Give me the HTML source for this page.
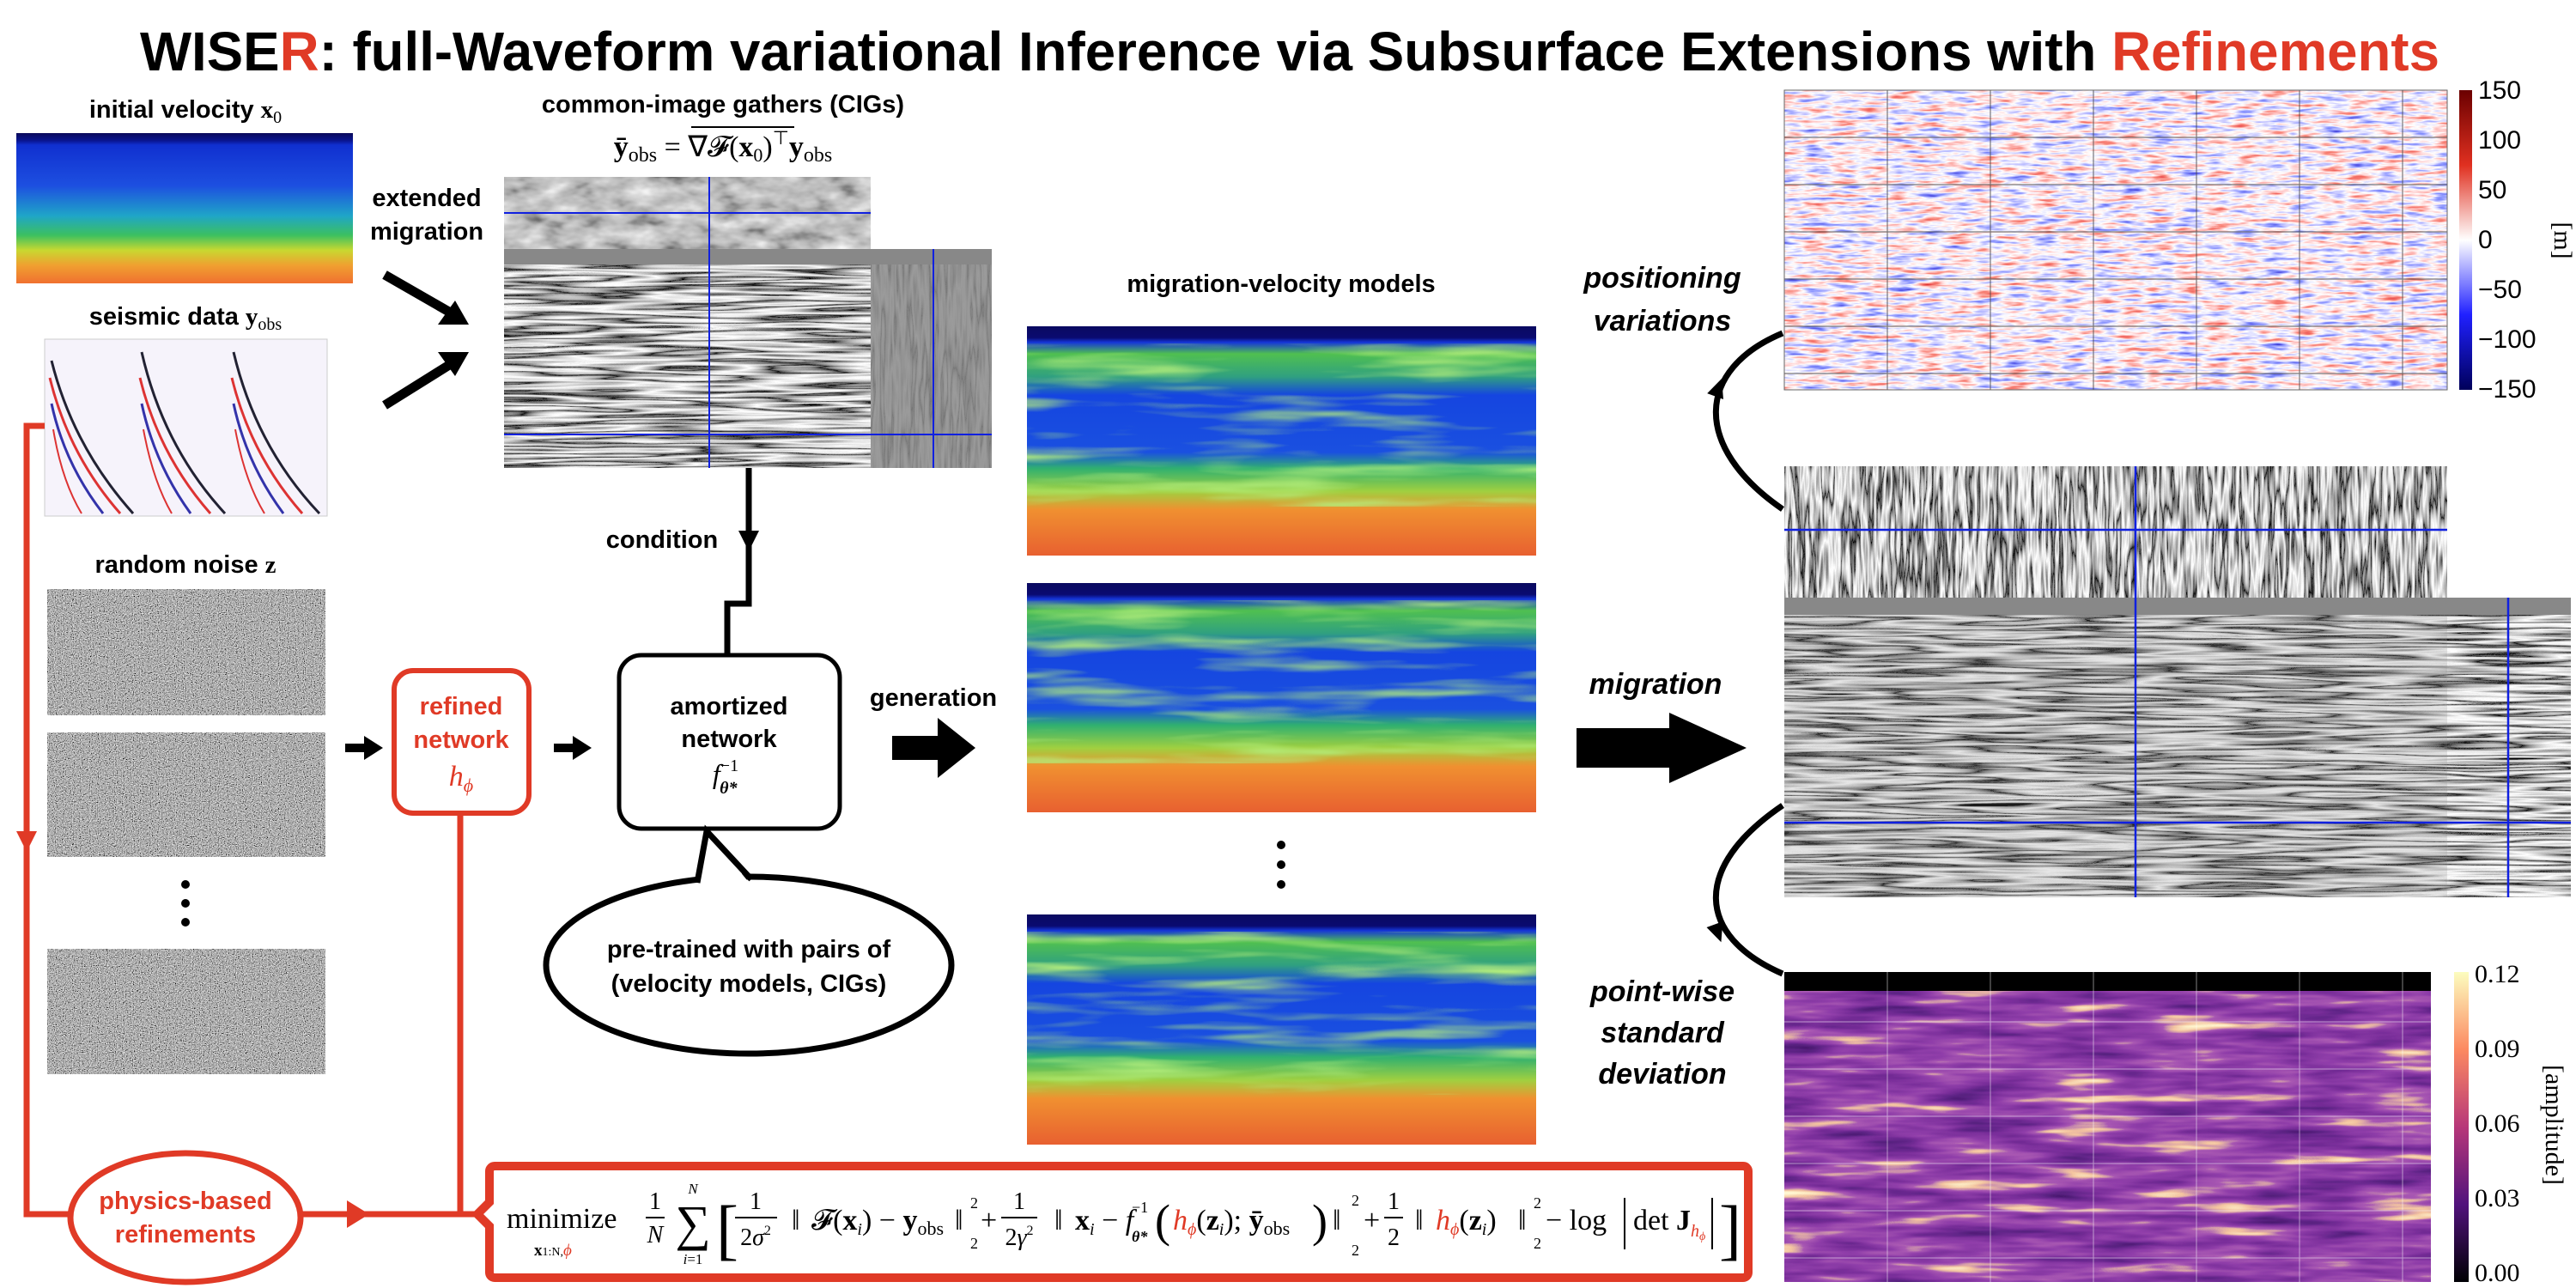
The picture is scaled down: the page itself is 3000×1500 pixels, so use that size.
<!DOCTYPE html>
<html><head><meta charset="utf-8"><style>
html,body{margin:0;padding:0;background:#fff;width:3000px;height:1500px;overflow:hidden}
svg{display:block}
text{font-family:"Liberation Sans",sans-serif}
.s text, text.s, tspan.s{font-family:"Liberation Serif",serif}
</style></head><body>
<svg width="3000" height="1500" viewBox="0 0 3000 1500" xmlns="http://www.w3.org/2000/svg">
<defs>
<filter id="gnoise" x="0" y="0" width="1" height="1"><feTurbulence type="fractalNoise" baseFrequency="0.9" numOctaves="1" seed="3"/><feColorMatrix type="matrix" values="0.33 0.33 0.33 0 0 0.33 0.33 0.33 0 0 0.33 0.33 0.33 0 0 0 0 0 0 1"/><feComponentTransfer><feFuncR type="linear" slope="3.2" intercept="-1.15"/><feFuncG type="linear" slope="3.2" intercept="-1.15"/><feFuncB type="linear" slope="3.2" intercept="-1.15"/></feComponentTransfer></filter>
<filter id="seis" x="0" y="0" width="1" height="1"><feTurbulence type="fractalNoise" baseFrequency="0.004 0.09" numOctaves="3" seed="7"/><feColorMatrix type="matrix" values="1 0 0 0 0 1 0 0 0 0 1 0 0 0 0 0 0 0 0 1"/><feComponentTransfer><feFuncR type="table" tableValues="0 0 1 0 1 0 1 1"/><feFuncG type="table" tableValues="0 0 1 0 1 0 1 1"/><feFuncB type="table" tableValues="0 0 1 0 1 0 1 1"/></feComponentTransfer></filter>
<filter id="seisv" x="0" y="0" width="1" height="1"><feTurbulence type="fractalNoise" baseFrequency="0.12 0.01" numOctaves="3" seed="11"/><feColorMatrix type="matrix" values="1 0 0 0 0 1 0 0 0 0 1 0 0 0 0 0 0 0 0 1"/><feComponentTransfer><feFuncR type="table" tableValues="0 1 0 1 0 1"/><feFuncG type="table" tableValues="0 1 0 1 0 1"/><feFuncB type="table" tableValues="0 1 0 1 0 1"/></feComponentTransfer></filter>
<filter id="blob" x="0" y="0" width="1" height="1"><feTurbulence type="fractalNoise" baseFrequency="0.03 0.06" numOctaves="3" seed="21"/><feColorMatrix type="matrix" values="1 0 0 0 0 1 0 0 0 0 1 0 0 0 0 0 0 0 0 1"/><feComponentTransfer><feFuncR type="table" tableValues="0 0.2 0.45 0.6 0.8 1"/><feFuncG type="table" tableValues="0 0.2 0.45 0.6 0.8 1"/><feFuncB type="table" tableValues="0 0.2 0.45 0.6 0.8 1"/></feComponentTransfer></filter>
<filter id="vel" x="0" y="0" width="1" height="1"><feTurbulence type="fractalNoise" baseFrequency="0.005 0.05" numOctaves="3" seed="5"/><feColorMatrix type="matrix" values="0 0 0 0 0.45 0 0 0 0 0.85 0 0 0 0 0.2 2.5 0 0 0 -1.2"/></filter>
<filter id="var" x="0" y="0" width="1" height="1"><feTurbulence type="fractalNoise" baseFrequency="0.03 0.2" numOctaves="3" seed="9"/><feColorMatrix type="matrix" values="1 0 0 0 0 1 0 0 0 0 1 0 0 0 0 0 0 0 0 1"/><feComponentTransfer><feFuncR type="table" tableValues="0 0.1 0.25 0.6 1 1 0.95 0.85 0.6"/><feFuncG type="table" tableValues="0 0.1 0.3 0.6 1 0.6 0.25 0.1 0"/><feFuncB type="table" tableValues="0.5 0.8 1 1 1 0.6 0.2 0.1 0"/></feComponentTransfer></filter>
<filter id="std" x="0" y="0" width="1" height="1"><feTurbulence type="fractalNoise" baseFrequency="0.008 0.07" numOctaves="3" seed="13"/><feColorMatrix type="matrix" values="1 0 0 0 0 1 0 0 0 0 1 0 0 0 0 0 0 0 0 1"/><feComponentTransfer><feFuncR type="table" tableValues="0.02 0.06 0.12 0.2 0.28 0.4 0.9 1 1"/><feFuncG type="table" tableValues="0 0.01 0.02 0.03 0.05 0.1 0.55 0.9 0.97"/><feFuncB type="table" tableValues="0.08 0.15 0.25 0.33 0.4 0.45 0.35 0.6 0.75"/></feComponentTransfer></filter>
<linearGradient id="g0" x1="0" y1="0" x2="0" y2="1"><stop offset="0" stop-color="#0a0a5a"/><stop offset="0.05" stop-color="#0a1590"/><stop offset="0.08" stop-color="#1030d0"/><stop offset="0.35" stop-color="#1d4fe0"/><stop offset="0.55" stop-color="#1fa5c8"/><stop offset="0.68" stop-color="#3cc060"/><stop offset="0.78" stop-color="#c8d830"/><stop offset="0.88" stop-color="#f0a030"/><stop offset="1" stop-color="#f07030"/></linearGradient>
<linearGradient id="gv" x1="0" y1="0" x2="0" y2="1"><stop offset="0" stop-color="#0a0a60"/><stop offset="0.05" stop-color="#0a0a70"/><stop offset="0.07" stop-color="#1535d8"/><stop offset="0.12" stop-color="#50c050"/><stop offset="0.22" stop-color="#30a080"/><stop offset="0.3" stop-color="#1545e0"/><stop offset="0.55" stop-color="#1a50e0"/><stop offset="0.62" stop-color="#30b070"/><stop offset="0.72" stop-color="#a0d040"/><stop offset="0.8" stop-color="#f09030"/><stop offset="1" stop-color="#e86030"/></linearGradient>
<linearGradient id="cbr" x1="0" y1="0" x2="0" y2="1"><stop offset="0" stop-color="#6b0000"/><stop offset="0.25" stop-color="#e03020"/><stop offset="0.5" stop-color="#ffffff"/><stop offset="0.75" stop-color="#2020ff"/><stop offset="1" stop-color="#00005a"/></linearGradient>
<linearGradient id="cbm" x1="0" y1="0" x2="0" y2="1"><stop offset="0" stop-color="#fcfdbf"/><stop offset="0.25" stop-color="#fc8961"/><stop offset="0.5" stop-color="#b73779"/><stop offset="0.75" stop-color="#51127c"/><stop offset="1" stop-color="#000004"/></linearGradient>
</defs>

<!-- Title -->
<text x="163" y="82" font-size="64" font-weight="bold" textLength="2678" lengthAdjust="spacingAndGlyphs">WISE<tspan fill="#e03a26">R</tspan>: full-Waveform variational Inference via Subsurface Extensions with <tspan fill="#e03a26">Refinements</tspan></text>

<!-- left column -->
<text x="216" y="137" font-size="29" font-weight="bold" text-anchor="middle">initial velocity <tspan class="s">x</tspan><tspan class="s" font-weight="normal" font-size="20" dy="6">0</tspan></text>
<rect x="19" y="155" width="392" height="175" fill="url(#g0)"/>
<text x="216" y="378" font-size="29" font-weight="bold" text-anchor="middle">seismic data <tspan class="s">y</tspan><tspan class="s" font-weight="normal" font-size="20" dy="6">obs</tspan></text>
<rect x="52" y="395" width="329" height="206" fill="#f6f3fb" stroke="#ccc"/>
<g fill="none" stroke-width="3">
<path d="M60 420 Q85 520 155 598" stroke="#223"/><path d="M58 440 Q80 530 140 598" stroke="#d33"/><path d="M60 470 Q75 540 120 598" stroke="#33a"/><path d="M62 500 Q72 560 95 598" stroke="#d33" stroke-width="2"/>
<path d="M165 410 Q190 520 262 598" stroke="#223"/><path d="M163 440 Q185 530 245 598" stroke="#d33"/><path d="M165 470 Q180 540 222 598" stroke="#33a"/><path d="M167 500 Q178 560 200 598" stroke="#d33" stroke-width="2"/>
<path d="M272 410 Q298 520 372 598" stroke="#223"/><path d="M270 440 Q292 530 352 598" stroke="#d33"/><path d="M272 470 Q287 540 330 598" stroke="#33a"/><path d="M274 500 Q285 560 308 598" stroke="#d33" stroke-width="2"/>
</g>
<text x="216" y="667" font-size="29" font-weight="bold" text-anchor="middle">random noise <tspan class="s">z</tspan></text>
<rect x="55" y="686" width="324" height="147" filter="url(#gnoise)"/>
<rect x="55" y="853" width="324" height="145" filter="url(#gnoise)"/>
<circle cx="216" cy="1030" r="5"/><circle cx="216" cy="1052" r="5"/><circle cx="216" cy="1074" r="5"/>
<rect x="55" y="1105" width="324" height="146" filter="url(#gnoise)"/>

<!-- extended migration -->
<text x="497" y="240" font-size="29" font-weight="bold" text-anchor="middle">extended</text>
<text x="497" y="279" font-size="29" font-weight="bold" text-anchor="middle">migration</text>
<line x1="448" y1="320" x2="528" y2="366" stroke="#000" stroke-width="11"/>
<polygon points="546,378 510,378 530,350" fill="#000"/>
<line x1="448" y1="472" x2="528" y2="422" stroke="#000" stroke-width="11"/>
<polygon points="546,410 510,410 530,438" fill="#000"/>

<!-- CIGs -->
<text x="842" y="131" font-size="29" font-weight="bold" text-anchor="middle">common-image gathers (CIGs)</text>
<text x="842" y="182" class="s" font-size="34" text-anchor="middle" font-weight="bold">ȳ<tspan font-weight="normal" font-size="24" dy="6">obs</tspan><tspan dy="-6" font-weight="normal"> = ∇𝓕(</tspan>x<tspan font-weight="normal" font-size="22" dy="6">0</tspan><tspan dy="-6" font-weight="normal">)</tspan><tspan font-weight="normal" font-size="22" dy="-14">⊤</tspan><tspan dy="14">y</tspan><tspan font-weight="normal" font-size="24" dy="6">obs</tspan></text>
<line x1="805" y1="148" x2="925" y2="148" stroke="#000" stroke-width="2"/>
<rect x="587" y="206" width="427" height="84" filter="url(#blob)"/>
<rect x="587" y="290" width="568" height="18" fill="#888"/>
<rect x="587" y="308" width="427" height="237" filter="url(#seis)"/>
<rect x="1014" y="308" width="141" height="237" fill="#8a8a8a"/>
<rect x="1014" y="308" width="141" height="237" filter="url(#seisv)" opacity="0.15"/>
<line x1="587" y1="248" x2="1014" y2="248" stroke="#1020e0" stroke-width="2"/>
<line x1="826" y1="206" x2="826" y2="545" stroke="#1020e0" stroke-width="2"/>
<line x1="587" y1="506" x2="1155" y2="506" stroke="#1020e0" stroke-width="2"/>
<line x1="1087" y1="290" x2="1087" y2="545" stroke="#1020e0" stroke-width="2"/>

<!-- condition -->
<polyline points="872,545 872,703 847,703 847,763" fill="none" stroke="#000" stroke-width="7"/>
<polygon points="860,618 884,618 872,642" fill="#000"/>
<text x="771" y="638" font-size="29" font-weight="bold" text-anchor="middle">condition</text>

<!-- amortized network -->
<rect x="721" y="763" width="257" height="202" rx="26" fill="#fff" stroke="#000" stroke-width="5"/>
<text x="849" y="832" font-size="29" font-weight="bold" text-anchor="middle">amortized</text>
<text x="849" y="870" font-size="29" font-weight="bold" text-anchor="middle">network</text>
<text x="845" y="912" class="s" font-size="32" font-style="italic" text-anchor="middle">f<tspan font-size="20" dy="-14" font-style="normal">−1</tspan><tspan font-size="20" dx="-22" dy="26" font-weight="bold">θ*</tspan></text>
<!-- speech bubble -->
<ellipse cx="872" cy="1124" rx="236" ry="103" fill="#fff" stroke="#000" stroke-width="7"/>
<polygon points="823,968 815,1030 870,1025" fill="#fff"/>
<polyline points="812,1028 823,968 875,1024" fill="none" stroke="#000" stroke-width="7"/>
<text x="872" y="1115" font-size="29" font-weight="bold" text-anchor="middle">pre-trained with pairs of</text>
<text x="872" y="1155" font-size="29" font-weight="bold" text-anchor="middle">(velocity models, CIGs)</text>

<!-- refined network -->
<rect x="459" y="781" width="157" height="166" rx="22" fill="#fff" stroke="#e03a26" stroke-width="6"/>
<text x="537" y="832" font-size="29" font-weight="bold" text-anchor="middle" fill="#e03a26">refined</text>
<text x="537" y="871" font-size="29" font-weight="bold" text-anchor="middle" fill="#e03a26">network</text>
<text x="537" y="915" class="s" font-size="34" font-style="italic" text-anchor="middle" fill="#e03a26">h<tspan font-size="22" dy="7">ϕ</tspan></text>
<line x1="402" y1="871" x2="428" y2="871" stroke="#000" stroke-width="10"/><polygon points="424,857 446,871 424,885" fill="#000"/>
<line x1="645" y1="871" x2="671" y2="871" stroke="#000" stroke-width="10"/><polygon points="667,857 689,871 667,885" fill="#000"/>

<!-- generation -->
<text x="1087" y="822" font-size="29" font-weight="bold" text-anchor="middle">generation</text>
<rect x="1039" y="857" width="55" height="28" fill="#000"/><polygon points="1092,836 1136,871 1092,906" fill="#000"/>

<!-- velocity models -->
<text x="1492" y="340" font-size="29" font-weight="bold" text-anchor="middle">migration-velocity models</text>
<g>
<rect x="1196" y="380" width="593" height="267" fill="url(#gv)"/><rect x="1196" y="400" width="593" height="190" filter="url(#vel)"/>
<rect x="1196" y="679" width="593" height="267" fill="url(#gv)"/><rect x="1196" y="699" width="593" height="190" filter="url(#vel)"/>
<rect x="1196" y="1065" width="593" height="268" fill="url(#gv)"/><rect x="1196" y="1085" width="593" height="190" filter="url(#vel)"/>
</g>
<circle cx="1492" cy="984" r="5"/><circle cx="1492" cy="1007" r="5"/><circle cx="1492" cy="1030" r="5"/>

<!-- migration arrow -->
<text x="1928" y="808" font-size="34" font-weight="bold" font-style="italic" text-anchor="middle">migration</text>
<rect x="1836" y="848" width="110" height="46" fill="#000"/><polygon points="1944,830 2034,871 1944,912" fill="#000"/>

<text x="1936" y="335" font-size="34" font-weight="bold" font-style="italic" text-anchor="middle">positioning</text>
<text x="1936" y="385" font-size="34" font-weight="bold" font-style="italic" text-anchor="middle">variations</text>
<text x="1936" y="1166" font-size="34" font-weight="bold" font-style="italic" text-anchor="middle">point-wise</text>
<text x="1936" y="1214" font-size="34" font-weight="bold" font-style="italic" text-anchor="middle">standard</text>
<text x="1936" y="1262" font-size="34" font-weight="bold" font-style="italic" text-anchor="middle">deviation</text>

<!-- top right variations -->
<rect x="2078" y="105" width="772" height="349" filter="url(#var)"/>
<g stroke="#444" stroke-width="1.2" opacity="0.7">
<line x1="2078" y1="160" x2="2850" y2="160"/><line x1="2078" y1="215" x2="2850" y2="215"/><line x1="2078" y1="270" x2="2850" y2="270"/><line x1="2078" y1="325" x2="2850" y2="325"/><line x1="2078" y1="380" x2="2850" y2="380"/><line x1="2078" y1="435" x2="2850" y2="435"/>
<line x1="2198" y1="105" x2="2198" y2="454"/><line x1="2318" y1="105" x2="2318" y2="454"/><line x1="2438" y1="105" x2="2438" y2="454"/><line x1="2558" y1="105" x2="2558" y2="454"/><line x1="2678" y1="105" x2="2678" y2="454"/><line x1="2798" y1="105" x2="2798" y2="454"/>
</g>
<rect x="2078" y="105" width="772" height="349" fill="none" stroke="#666"/>
<rect x="2864" y="105" width="15" height="349" fill="url(#cbr)"/>
<g font-size="30">
<text x="2886" y="115">150</text><text x="2886" y="173">100</text><text x="2886" y="231">50</text><text x="2886" y="289">0</text><text x="2886" y="347">−50</text><text x="2886" y="405">−100</text><text x="2886" y="463">−150</text>
</g>
<text x="2975" y="280" class="s" font-size="30" text-anchor="middle" transform="rotate(90 2975 280)">[m]</text>

<!-- right CIGs -->
<rect x="2078" y="543" width="772" height="153" filter="url(#seisv)"/>
<rect x="2078" y="696" width="916" height="20" fill="#888"/>
<rect x="2078" y="716" width="772" height="329" filter="url(#seis)"/>
<rect x="2078" y="716" width="772" height="329" fill="#888" opacity="0.2"/>
<rect x="2850" y="716" width="144" height="329" filter="url(#seis)"/>
<line x1="2487" y1="543" x2="2487" y2="1045" stroke="#1020e0" stroke-width="2.5"/>
<line x1="2078" y1="617" x2="2850" y2="617" stroke="#1020e0" stroke-width="2.5"/>
<line x1="2078" y1="958" x2="2994" y2="958" stroke="#1020e0" stroke-width="2.5"/>
<line x1="2921" y1="696" x2="2921" y2="1045" stroke="#1020e0" stroke-width="2.5"/>

<!-- curved arrows -->
<path d="M2076 593 C1970 520 1975 430 2076 388" fill="none" stroke="#000" stroke-width="7"/>
<polygon points="1990,448 2010,448 2000,470" fill="#000" transform="rotate(-160 2000 455)"/>
<path d="M2076 938 C1970 1010 1975 1090 2076 1134" fill="none" stroke="#000" stroke-width="7"/>
<polygon points="1990,1076 2010,1076 2000,1098" fill="#000" transform="rotate(-20 2000 1085)"/>

<!-- std -->
<rect x="2078" y="1132" width="753" height="361" filter="url(#std)"/>
<rect x="2078" y="1132" width="753" height="22" fill="#000"/>
<g stroke="#fff" stroke-width="1" opacity="0.5">
<line x1="2078" y1="1190" x2="2831" y2="1190"/><line x1="2078" y1="1245" x2="2831" y2="1245"/><line x1="2078" y1="1300" x2="2831" y2="1300"/><line x1="2078" y1="1355" x2="2831" y2="1355"/><line x1="2078" y1="1410" x2="2831" y2="1410"/><line x1="2078" y1="1465" x2="2831" y2="1465"/>
<line x1="2198" y1="1132" x2="2198" y2="1493"/><line x1="2318" y1="1132" x2="2318" y2="1493"/><line x1="2438" y1="1132" x2="2438" y2="1493"/><line x1="2558" y1="1132" x2="2558" y2="1493"/><line x1="2678" y1="1132" x2="2678" y2="1493"/><line x1="2798" y1="1132" x2="2798" y2="1493"/>
</g>
<rect x="2858" y="1132" width="17" height="361" fill="url(#cbm)"/>
<g font-size="30" class="s">
<text x="2882" y="1144">0.12</text><text x="2882" y="1231">0.09</text><text x="2882" y="1318">0.06</text><text x="2882" y="1405">0.03</text><text x="2882" y="1492">0.00</text>
<text x="2965" y="1310" text-anchor="middle" transform="rotate(90 2965 1310)">[amplitude]</text>
</g>

<!-- red loop -->
<g stroke="#e03a26" stroke-width="7" fill="none">
<polyline points="52,496 31,496 31,1414 82,1414"/>
<line x1="350" y1="1414" x2="555" y2="1414"/>
<line x1="536" y1="947" x2="536" y2="1414"/>
</g>
<polygon points="19,968 43,968 31,992" fill="#e03a26"/>
<polygon points="404,1398 430,1414 404,1430" fill="#e03a26"/>
<ellipse cx="216" cy="1418" rx="134" ry="75" fill="#fff" stroke="#e03a26" stroke-width="7"/>
<text x="216" y="1408" font-size="29" font-weight="bold" text-anchor="middle" fill="#e03a26">physics-based</text>
<text x="216" y="1447" font-size="29" font-weight="bold" text-anchor="middle" fill="#e03a26">refinements</text>

<!-- formula box -->
<path d="M576 1358 H2030 a6 6 0 0 1 6 6 V1482 a6 6 0 0 1 -6 6 H576 a6 6 0 0 1 -6 -6 V1428 L556 1414 L570 1400 V1364 a6 6 0 0 1 6 -6 Z" fill="#fff" stroke="#e03a26" stroke-width="10"/>
<g class="s" font-size="34" fill="#000">
<text x="590" y="1430">minimize</text>
<text x="622" y="1462" font-size="19" font-weight="bold">x<tspan font-weight="normal" font-size="14">1:N,</tspan><tspan fill="#e03a26" font-style="italic" font-weight="normal">ϕ</tspan></text>
<text x="763" y="1408" font-size="28" text-anchor="middle">1</text><line x1="752" y1="1418" x2="774" y2="1418" stroke="#000" stroke-width="2"/><text x="763" y="1447" font-size="28" font-style="italic" text-anchor="middle">N</text>
<text x="807" y="1444" font-size="58" text-anchor="middle">∑</text><text x="807" y="1390" font-size="17" font-style="italic" text-anchor="middle">N</text><text x="807" y="1472" font-size="17" text-anchor="middle"><tspan font-style="italic">i</tspan>=1</text>
<text x="834" y="1458" font-size="78">[</text>
<text x="880" y="1408" font-size="28" text-anchor="middle">1</text><line x1="856" y1="1418" x2="905" y2="1418" stroke="#000" stroke-width="2"/><text x="880" y="1450" font-size="28" text-anchor="middle">2<tspan font-style="italic">σ</tspan><tspan font-size="16" dy="-12">2</tspan></text>
<text x="922" y="1432">‖</text>
<text x="945" y="1432">𝓕(<tspan font-weight="bold">x</tspan><tspan font-style="italic" font-size="20" dy="6">i</tspan><tspan dy="-6">) − </tspan><tspan font-weight="bold">y</tspan><tspan font-size="22" dy="6">obs</tspan></text>
<text x="1112" y="1432">‖</text>
<text x="1130" y="1407" font-size="18">2</text><text x="1130" y="1454" font-size="18">2</text>
<text x="1142" y="1432">+</text>
<text x="1187" y="1408" font-size="28" text-anchor="middle">1</text><line x1="1166" y1="1418" x2="1208" y2="1418" stroke="#000" stroke-width="2"/><text x="1187" y="1450" font-size="28" text-anchor="middle">2<tspan font-style="italic">γ</tspan><tspan font-size="16" dy="-12">2</tspan></text>
<text x="1228" y="1432">‖</text>
<text x="1252" y="1432"><tspan font-weight="bold">x</tspan><tspan font-style="italic" font-size="20" dy="6">i</tspan><tspan dy="-6"> − </tspan><tspan font-style="italic">f</tspan></text>
<text x="1318" y="1412" font-size="18">−1</text><text x="1318" y="1446" font-size="18" font-style="italic" font-weight="bold">θ*</text>
<text x="1345" y="1440" font-size="54">(</text>
<text x="1366" y="1432"><tspan fill="#e03a26" font-style="italic">h</tspan><tspan fill="#e03a26" font-style="italic" font-size="20" dy="6">ϕ</tspan><tspan dy="-6">(</tspan><tspan font-weight="bold">z</tspan><tspan font-style="italic" font-size="20" dy="6">i</tspan><tspan dy="-6">); </tspan><tspan font-weight="bold">ȳ</tspan><tspan font-size="22" dy="6">obs</tspan></text>
<text x="1528" y="1440" font-size="54">)</text>
<text x="1552" y="1432">‖</text>
<text x="1574" y="1404" font-size="18">2</text><text x="1574" y="1462" font-size="18">2</text>
<text x="1588" y="1432">+</text>
<text x="1623" y="1408" font-size="28" text-anchor="middle">1</text><line x1="1612" y1="1418" x2="1634" y2="1418" stroke="#000" stroke-width="2"/><text x="1623" y="1450" font-size="28" text-anchor="middle">2</text>
<text x="1648" y="1432">‖</text>
<text x="1672" y="1432"><tspan fill="#e03a26" font-style="italic">h</tspan><tspan fill="#e03a26" font-style="italic" font-size="20" dy="6">ϕ</tspan><tspan dy="-6">(</tspan><tspan font-weight="bold">z</tspan><tspan font-style="italic" font-size="20" dy="6">i</tspan><tspan dy="-6">)</tspan></text>
<text x="1768" y="1432">‖</text>
<text x="1786" y="1407" font-size="18">2</text><text x="1786" y="1454" font-size="18">2</text>
<text x="1800" y="1432">− log</text>
<line x1="1892" y1="1395" x2="1892" y2="1455" stroke="#000" stroke-width="2"/>
<text x="1902" y="1432">det <tspan font-weight="bold">J</tspan><tspan fill="#e03a26" font-style="italic" font-size="20" dy="8">h</tspan><tspan fill="#e03a26" font-style="italic" font-size="14" dy="4">ϕ</tspan></text>
<line x1="1994" y1="1395" x2="1994" y2="1455" stroke="#000" stroke-width="2"/>
<text x="2002" y="1458" font-size="78">]</text>
</g>
</svg>
</body></html>
